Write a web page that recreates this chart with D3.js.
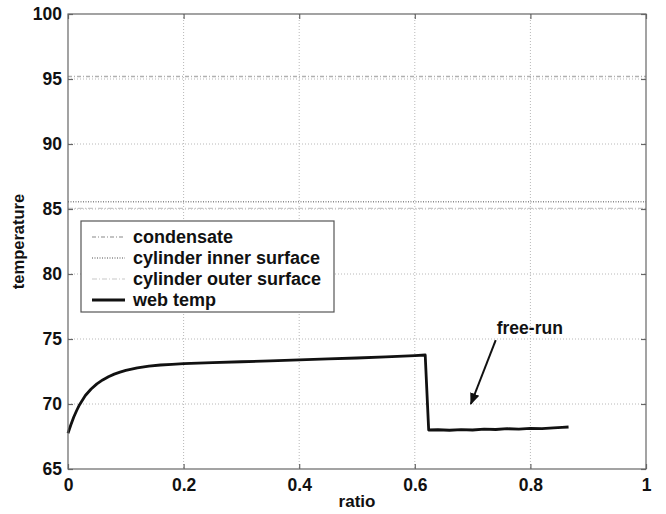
<!DOCTYPE html>
<html><head><meta charset="utf-8">
<script src="https://cdn.jsdelivr.net/npm/d3@7"></script>
<style>
body{margin:0;background:#fff;}
text{font-family:"Liberation Sans",Arial,sans-serif;font-weight:bold;fill:#111;}
</style></head>
<body><svg id="c" width="666" height="514"></svg>
<script>
const xTicks = [0, 0.2, 0.4, 0.6, 0.8, 1];
const xTickLabels = ["0", "0.2", "0.4", "0.6", "0.8", "1"];
const yTicks = [65, 70, 75, 80, 85, 90, 95, 100];
const refRatio = [0, 1];
const condensate = [95.2, 95.2];
const innerSurface = [85.55, 85.55];
const outerSurface = [85.05, 85.05];
const webRatio = [0, 0.005, 0.01, 0.015, 0.02, 0.03, 0.04, 0.05, 0.06, 0.07, 0.08, 0.09, 0.1, 0.12, 0.14, 0.16, 0.18, 0.2, 0.25, 0.3, 0.35, 0.4, 0.45, 0.5, 0.55, 0.6, 0.618, 0.624, 0.64, 0.66, 0.68, 0.7, 0.72, 0.74, 0.76, 0.78, 0.8, 0.82, 0.84, 0.855, 0.866];
const webTemp = [67.75, 68.4, 69.0, 69.5, 69.95, 70.65, 71.15, 71.55, 71.85, 72.1, 72.3, 72.45, 72.58, 72.78, 72.92, 73.0, 73.05, 73.1, 73.18, 73.25, 73.32, 73.4, 73.47, 73.54, 73.62, 73.72, 73.77, 68.0, 68.02, 67.98, 68.03, 68.0, 68.06, 68.04, 68.1, 68.07, 68.12, 68.1, 68.16, 68.2, 68.23];
const legendLabels = ["condensate", "cylinder inner surface", "cylinder outer surface", "web temp"];
const annotation = {text: "free-run", from: [0.74, 74.92], to: [0.697, 70.0]};

const svg = d3.select("#c");
const L = 68, R = 646, T = 14, B = 469;
const x = d3.scaleLinear().domain([0, 1]).range([L, R]);
const y = d3.scaleLinear().domain([65, 100]).range([B, T]);

// grid
const grid = svg.append("g").attr("stroke", "#b8b8b8").attr("stroke-width", 1).attr("stroke-dasharray", "1,2");
grid.selectAll(".gx").data(xTicks.slice(1, -1)).join("line")
  .attr("x1", d => x(d)).attr("x2", d => x(d)).attr("y1", T).attr("y2", B);
grid.selectAll(".gy").data(yTicks.slice(1, -1)).join("line")
  .attr("y1", d => y(d)).attr("y2", d => y(d)).attr("x1", L).attr("x2", R);

// reference lines
const line = d3.line().x(d => x(d[0])).y(d => y(d[1]));
const refs = [
  {vals: condensate, stroke: "#b0b0b0", dash: "4,2,1,2", w: 1.5},
  {vals: innerSurface, stroke: "#8a8a8a", dash: "1,1.5", w: 1.5},
  {vals: outerSurface, stroke: "#c8c8c8", dash: "5,2,1,2", w: 1.2}
];
refs.forEach(r => {
  svg.append("path").datum(refRatio.map((d, i) => [d, r.vals[i]]))
    .attr("d", line).attr("fill", "none").attr("stroke", r.stroke)
    .attr("stroke-width", r.w).attr("stroke-dasharray", r.dash);
});

// web temp
svg.append("path").datum(webRatio.map((d, i) => [d, webTemp[i]]))
  .attr("d", line).attr("fill", "none").attr("stroke", "#111")
  .attr("stroke-width", 2.8).attr("stroke-linejoin", "round");

// axes box
svg.append("rect").attr("x", L).attr("y", T).attr("width", R - L).attr("height", B - T)
  .attr("fill", "none").attr("stroke", "#666").attr("stroke-width", 1.2);

// axes with inward ticks
const fmtX = d => xTickLabels[xTicks.indexOf(d)];
const ax = svg.append("g").attr("transform", `translate(0,${B})`)
  .call(d3.axisBottom(x).tickValues(xTicks).tickFormat(fmtX).tickSizeInner(-5).tickSizeOuter(0).tickPadding(10));
const ay = svg.append("g").attr("transform", `translate(${L},0)`)
  .call(d3.axisLeft(y).tickValues(yTicks).tickSizeInner(-5).tickSizeOuter(0).tickPadding(6));
const at = svg.append("g").attr("transform", `translate(0,${T})`)
  .call(d3.axisTop(x).tickValues(xTicks).tickFormat("").tickSizeInner(-5).tickSizeOuter(0));
const ar = svg.append("g").attr("transform", `translate(${R},0)`)
  .call(d3.axisRight(y).tickValues(yTicks).tickFormat("").tickSizeInner(-5).tickSizeOuter(0));
[ax, ay, at, ar].forEach(g => {
  g.select(".domain").remove();
  g.selectAll(".tick line").attr("stroke", "#666").attr("stroke-width", 1.2);
  g.selectAll("text").attr("font-size", 17.5).attr("font-family", "Liberation Sans, Arial, sans-serif").attr("font-weight", "bold").attr("fill", "#111");
});

// axis labels
svg.append("text").attr("x", (L + R) / 2).attr("y", 507).attr("text-anchor", "middle")
  .attr("font-size", 17).text("ratio");
svg.append("text").attr("transform", `translate(24,${(T + B) / 2}) rotate(-90)`)
  .attr("text-anchor", "middle").attr("font-size", 16.5).text("temperature");

// legend
const lg = svg.append("g");
lg.append("rect").attr("x", 81).attr("y", 221).attr("width", 253).attr("height", 91)
  .attr("fill", "#fff").attr("stroke", "#555").attr("stroke-width", 1.2);
const legStyles = [
  {stroke: "#b0b0b0", dash: "4,2,1,2", w: 1.5},
  {stroke: "#8a8a8a", dash: "1,1.5", w: 1.5},
  {stroke: "#c8c8c8", dash: "5,2,1,2", w: 1.2},
  {stroke: "#111", dash: null, w: 2.8}
];
legendLabels.forEach((lab, i) => {
  const cy = 237 + i * 21;
  lg.append("line").attr("x1", 92).attr("x2", 125).attr("y1", cy).attr("y2", cy)
    .attr("stroke", legStyles[i].stroke).attr("stroke-width", legStyles[i].w)
    .attr("stroke-dasharray", legStyles[i].dash);
  lg.append("text").attr("x", 133).attr("y", cy + 6).attr("font-size", 18).text(lab);
});

// annotation
const defs = svg.append("defs");
defs.append("marker").attr("id", "ah").attr("viewBox", "0 0 10 10").attr("refX", 9).attr("refY", 5)
  .attr("markerWidth", 6).attr("markerHeight", 6).attr("orient", "auto")
  .append("path").attr("d", "M0,1 L10,5 L0,9 Z").attr("fill", "#111");
svg.append("line")
  .attr("x1", x(annotation.from[0])).attr("y1", y(annotation.from[1]))
  .attr("x2", x(annotation.to[0])).attr("y2", y(annotation.to[1]))
  .attr("stroke", "#111").attr("stroke-width", 2).attr("marker-end", "url(#ah)");
svg.append("text").attr("x", x(annotation.from[0]) + 1).attr("y", y(annotation.from[1]) - 6)
  .attr("font-size", 17.5).text(annotation.text);
</script></body></html>
